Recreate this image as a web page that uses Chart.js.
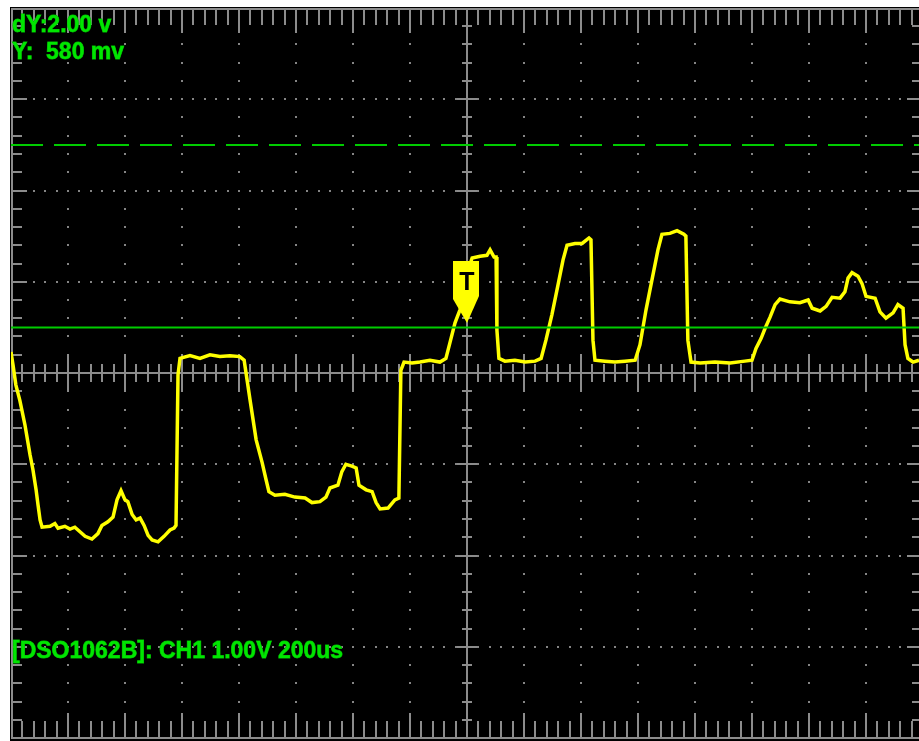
<!DOCTYPE html>
<html>
<head>
<meta charset="utf-8">
<title>DSO1062B</title>
<script src="https://cdn.jsdelivr.net/npm/chart.js@4.4.0/dist/chart.umd.min.js"></script>
<style>
    html, body { margin: 0; padding: 0; background: #fff; }
    #marco { width: 919px; height: 741px; overflow: hidden; position: relative; }
    #osciloscopio { position: absolute; left: 0; top: 0; }
</style>
</head>
<body>
<div id="marco"><canvas id="osciloscopio" width="940" height="741"></canvas></div>
<script>
// Tiempo en us respecto al disparo (200us/div) y tension en V (1.00V/div)
var tiempos = [-1600, -1593, -1583, -1569, -1551, -1533, -1523, -1512, -1505, -1498,
    -1491, -1463, -1446, -1435, -1411, -1393, -1376, -1358, -1340, -1316,
    -1295, -1281, -1260, -1242, -1228, -1214, -1200, -1190, -1175, -1161,
    -1147, -1133, -1119, -1105, -1084, -1063, -1042, -1028, -1021, -1014,
    -1007, -972, -937, -902, -867, -832, -797, -782, -761, -740,
    -719, -705, -695, -674, -639, -604, -568, -544, -516, -495,
    -481, -453, -439, -425, -404, -389, -379, -354, -333, -319,
    -305, -277, -253, -239, -232, -221, -193, -165, -130, -95,
    -74, -60, -42, -25, -7, 4, 18, 46, 70, 81,
    95, 102, 105, 112, 133, 168, 204, 239, 260, 277,
    298, 319, 337, 351, 379, 404, 428, 435, 442, 449,
    484, 519, 554, 590, 607, 628, 649, 670, 684, 712,
    737, 761, 768, 775, 786, 818, 870, 923, 975, 1000,
    1014, 1032, 1046, 1063, 1081, 1098, 1133, 1168, 1197, 1211,
    1239, 1260, 1281, 1309, 1326, 1337, 1351, 1372, 1386, 1400,
    1432, 1449, 1470, 1495, 1512, 1530, 1537, 1547, 1565, 1586];

var voltios = [0.23, 0.09, -0.13, -0.30, -0.57, -0.90, -1.06, -1.28, -1.45, -1.61,
    -1.69, -1.68, -1.65, -1.70, -1.68, -1.71, -1.69, -1.74, -1.79, -1.82,
    -1.76, -1.67, -1.63, -1.58, -1.39, -1.29, -1.39, -1.41, -1.55, -1.61,
    -1.59, -1.67, -1.78, -1.83, -1.85, -1.79, -1.72, -1.70, -1.67, -0.02,
    0.16, 0.19, 0.16, 0.20, 0.18, 0.19, 0.18, 0.14, -0.30, -0.73,
    -0.98, -1.17, -1.30, -1.34, -1.33, -1.36, -1.37, -1.42, -1.41, -1.36,
    -1.26, -1.23, -1.08, -1.00, -1.02, -1.04, -1.23, -1.28, -1.30, -1.42,
    -1.49, -1.48, -1.39, -1.37, 0.03, 0.12, 0.11, 0.12, 0.14, 0.12,
    0.16, 0.33, 0.55, 0.69, 0.85, 1.13, 1.26, 1.28, 1.29, 1.35,
    1.27, 1.27, 0.47, 0.16, 0.13, 0.14, 0.12, 0.13, 0.16, 0.36,
    0.64, 0.96, 1.24, 1.40, 1.42, 1.42, 1.48, 1.46, 0.36, 0.14,
    0.13, 0.12, 0.13, 0.14, 0.31, 0.69, 1.02, 1.35, 1.52, 1.53,
    1.56, 1.52, 1.50, 0.36, 0.12, 0.11, 0.12, 0.11, 0.13, 0.14,
    0.27, 0.38, 0.49, 0.61, 0.75, 0.81, 0.78, 0.77, 0.80, 0.71,
    0.68, 0.73, 0.83, 0.82, 0.89, 1.04, 1.10, 1.06, 0.98, 0.84,
    0.82, 0.67, 0.60, 0.66, 0.75, 0.71, 0.31, 0.16, 0.12, 0.14];

// Cursores (V) y nivel de disparo
var cursorA = 2.50;
var cursorB = 0.50;
var nivelDisparo = 0.55;

// Rango de la pantalla
var tMin = -1600, tMax = 1600;
var vMin = -4, vMax = 4;

var textoSup = ['dY:2.00 v', 'Y:  580 mv'];
var textoInf = '[DSO1062B]: CH1 1.00V 200us';

var GRIS = '#8c8c8c';
var VERDE = '#00cc00';

document.addEventListener('DOMContentLoaded', f_principal);

function f_principal() {
    var traza = [];
    for (var i = 0; i < tiempos.length; i++) {
        traza.push({ x: tiempos[i], y: voltios[i] });
    }

    var data = {
        datasets: [{
            data: [{ x: tMin, y: cursorA }, { x: tMax, y: cursorA }],
            borderColor: VERDE,
            borderWidth: 2,
            borderDash: [32, 11],
            pointRadius: 0,
            order: 1
        }, {
            data: [{ x: tMin, y: cursorB }, { x: tMax, y: cursorB }],
            borderColor: VERDE,
            borderWidth: 2,
            pointRadius: 0,
            order: 1
        }, {
            data: traza,
            borderColor: '#ffff00',
            borderWidth: 3.5,
            pointRadius: 0,
            tension: 0,
            order: 2
        }]
    };

    var options = {
        responsive: false,
        animation: false,
        events: [],
        layout: { padding: { left: 11, top: 8, right: 17, bottom: 3 } },
        plugins: { legend: { display: false }, tooltip: { enabled: false } },
        scales: {
            x: { type: 'linear', min: tMin, max: tMax, display: false },
            y: { type: 'linear', min: vMin, max: vMax, display: false }
        }
    };

    var ctx = document.getElementById('osciloscopio').getContext('2d');
    new Chart(ctx, {
        type: 'line',
        data: data,
        options: options,
        plugins: [pantalla]
    });
}

var pantalla = {
    id: 'pantalla',
    beforeDraw: function (chart) {
        var c = chart.ctx, a = chart.chartArea;
        c.save();
        c.fillStyle = '#fff';
        c.fillRect(0, 0, chart.width, chart.height);
        c.fillStyle = '#000';
        c.fillRect(a.left - 1, a.top - 1, chart.width, chart.height);
        c.restore();
    },
    beforeDatasetsDraw: function (chart) {
        dibujarReticula(chart);
    },
    afterDatasetsDraw: function (chart) {
        marcadorDisparo(chart);
        dibujarTextos(chart);
    }
};

function dibujarReticula(chart) {
    var c = chart.ctx, a = chart.chartArea;
    var xs = chart.scales.x, ys = chart.scales.y;
    var k, j, px, py;
    c.save();

    // puntos en las divisiones horizontales
    c.fillStyle = '#858585';
    for (k = 1; k < 8; k++) {
        if (k == 4) continue;
        py = Math.round(ys.getPixelForValue(vMin + k));
        for (j = 1; j < 80; j++) {
            px = Math.round(xs.getPixelForValue(tMin + j * 40));
            c.fillRect(px - 1, py - 1, 2, 2);
        }
    }
    // puntos en las divisiones verticales
    for (k = 1; k < 16; k++) {
        if (k == 8) continue;
        px = Math.round(xs.getPixelForValue(tMin + k * 200));
        for (j = 1; j < 40; j++) {
            py = Math.round(ys.getPixelForValue(vMin + j * 0.2));
            c.fillRect(px - 1, py - 1, 2, 2);
        }
    }

    c.strokeStyle = GRIS;
    c.lineWidth = 2;
    var cx = Math.round(xs.getPixelForValue(0));
    var cy = Math.round(ys.getPixelForValue(0));

    c.beginPath();
    // ejes centrales
    c.moveTo(a.left, cy); c.lineTo(a.right, cy);
    c.moveTo(cx, a.top); c.lineTo(cx, a.bottom);

    // marcas en eje x (centro, arriba y abajo)
    for (j = 1; j < 80; j++) {
        px = Math.round(xs.getPixelForValue(tMin + j * 40));
        var mayor = (j % 5 == 0);
        var m1 = mayor ? 19 : 9;
        var m2 = mayor ? 25 : 17;
        c.moveTo(px, cy - m1); c.lineTo(px, cy + m1);
        c.moveTo(px, a.top); c.lineTo(px, a.top + m2);
        c.moveTo(px, a.bottom); c.lineTo(px, a.bottom - m2);
    }
    // marcas en eje y (centro, izquierda y derecha)
    for (j = 1; j < 40; j++) {
        py = Math.round(ys.getPixelForValue(vMin + j * 0.2));
        var mayorY = (j % 5 == 0);
        var n1 = mayorY ? 10 : 5;
        var n2 = mayorY ? 16 : 11;
        c.moveTo(cx - n1, py); c.lineTo(cx + n1, py);
        c.moveTo(a.left, py); c.lineTo(a.left + n2, py);
        c.moveTo(a.right, py); c.lineTo(a.right - n2, py);
    }
    c.stroke();

    // borde
    c.strokeRect(a.left + 1, a.top + 1, a.right - a.left - 1, a.bottom - a.top - 1);
    c.restore();
}

function marcadorDisparo(chart) {
    var c = chart.ctx;
    var x = Math.round(chart.scales.x.getPixelForValue(0));
    var y = Math.round(chart.scales.y.getPixelForValue(nivelDisparo));
    c.save();
    c.fillStyle = '#ffff00';
    c.beginPath();
    c.moveTo(x - 14, y - 62);
    c.lineTo(x + 12, y - 62);
    c.lineTo(x + 12, y - 27);
    c.lineTo(x, y);
    c.lineTo(x - 14, y - 24);
    c.closePath();
    c.fill();
    c.fillStyle = '#000';
    c.font = 'bold 25px "Liberation Sans", Arial, sans-serif';
    c.textAlign = 'center';
    c.textBaseline = 'alphabetic';
    c.fillText('T', x, y - 33);
    c.restore();
}

function dibujarTextos(chart) {
    var c = chart.ctx;
    c.save();
    c.font = 'bold 23px "Liberation Sans", Arial, sans-serif';
    c.textAlign = 'left';
    c.textBaseline = 'alphabetic';
    c.fillStyle = '#00e600';
    c.strokeStyle = '#00b400';
    c.lineWidth = 0.8;
    var lineas = [[textoSup[0], 32], [textoSup[1], 59], [textoInf, 658]];
    for (var i = 0; i < lineas.length; i++) {
        c.strokeText(lineas[i][0], 12, lineas[i][1]);
        c.fillText(lineas[i][0], 12, lineas[i][1]);
    }
    c.restore();
}
</script>
</body>
</html>
